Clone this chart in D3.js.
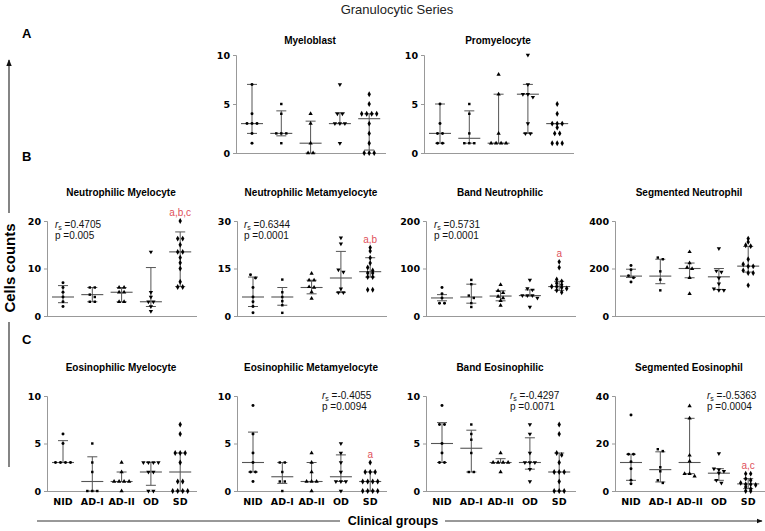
<!DOCTYPE html>
<html><head><meta charset="utf-8">
<script src="https://cdn.jsdelivr.net/npm/d3@7"></script>
<style>body{margin:0;background:#fff}</style>
</head><body>
<svg id="c" width="765" height="531"></svg>
<script>
const groups = ["NID", "AD-I", "AD-II", "OD", "SD"];

const myeloblastPoints = [[7,4,3,3,3,2,1],[5,4,2,2,2,1],[4,3,1,0,0],[7,4,4,3,3,3,1],[6,5,4,4,4,4,3,2,1,0,0,0]];
const myeloblastMedian = [3,2,1,3,3.5];
const myeloblastIQR = [[2,7],[1.75,4.3],[0,3.25],[3,4.1],[0.3,4]];

const promyelocytePoints = [[5,3,2,2,1,1],[5,4,2,1,1,1],[8,6,2,1,1,1,1],[10,7,6,6,5.7,3,2,2],[5,4,3,3,3,2.6,2,2,1,1,1]];
const promyelocyteMedian = [2,1.5,1,6,3];
const promyelocyteIQR = [[1,5],[1,4.3],[1,6],[2,7],[3,3]];

const neutMyeloPoints = [[7,6,5,4,3,2],[6,6,4.5,4,3,3],[6,6,5,5,3,3],[13.5,5,4,3,3,2,1],[20,16.3,16.3,15,13.5,13.5,12.3,11.2,10,7.2,6.1,6.1]];
const neutMyeloMedian = [4,4.5,5,3,13.5];
const neutMyeloIQR = [[2.8,6.4],[3,6],[3,6],[2,10.2],[6.2,17.7]];

const neutMetaPoints = [[13,12,9,6,4.5,3,1],[11.5,7.5,6,4.7,3.4,1],[13.4,11.3,11.3,9.2,9,7.6,5.5],[24.7,22.8,14.6,13.9,8.6,7.4,7.4],[21.6,20.5,18.4,16.7,15.3,14.4,13.6,13.6,12.3,12.3,8.3,8.3]];
const neutMetaMedian = [6,6,9,12,14];
const neutMetaIQR = [[3,12.3],[3.4,9],[7,11.3],[7.4,20.4],[12.3,18.4]];

const bandNeutPoints = [[60,47,38,27,27],[76,67,43,38,27,19],[66,53,49,41,38,32,22],[76,58,55,43,43,43,38,19],[114,102,77,73,69,66,62,62,60,58,54,50]];
const bandNeutMedian = [38,40,42,43,62];
const bandNeutIQR = [[32,45],[27,67],[32,53],[42,55],[54,73]];

const segNeutPoints = [[213,195,170,161,143],[246,239,188,153,108],[270,223,204,199,161,94],[284,190,185,160,136,115,108,108],[326,312,298,294,239,218,209,209,192,181,181,129]];
const segNeutMedian = [168,168,200,165,210];
const segNeutIQR = [[162,197],[136,239],[161,223],[112,200],[185,293]];

const eosMyeloPoints = [[6,5,3,3,3,3],[5,3,2,0,0,0],[3,2,1,1,1,1,0],[3,3,3,3,2,2,0,0],[7,6,4,4,4,3,1,1,0,0,0,0]];
const eosMyeloMedian = [3,1,1,2,2];
const eosMyeloIQR = [[3,5.3],[0,3.6],[1,2],[0.6,3],[0,4]];

const eosMetaPoints = [[9,6,4,3,2,2,1],[3,3,2,1,1,0],[4,3,2,1,1,1,0],[5,4,3,2,1,1,1,0],[3,2,2,2,1,1,1,1,0,0,0,0]];
const eosMetaMedian = [3,1.5,1,1.5,1];
const eosMetaIQR = [[2,6.2],[0.8,3],[1,3],[1,3.8],[0,2]];

const bandEosPoints = [[9,7,7,5,4,3,3],[7,6,5.4,4,2,2],[4,3,3,3,3,2],[7,6,4,3,3,3,2.3,1],[7,6,4,3.8,3,2,2,2,1,0,0,0]];
const bandEosMedian = [5,4.5,3,3,2];
const bandEosIQR = [[3,7.2],[2,6.4],[3,3.4],[2.3,5.6],[0,4]];

const segEosPoints = [[32,15.5,15.5,12.3,9.4,4.5,3.1],[17.6,16.8,10,8.3,4.5,3.4],[35.8,30.6,15,12.5,7.3,7.3,6.2],[15.8,9.4,9,8.3,7.6,4.5,3.4],[7.3,7.3,5.2,4.5,3.4,2.8,2.8,2.5,1.7,1,0,0]];
const segEosMedian = [12,9,12,7.5,3];
const segEosIQR = [[4.5,15.5],[3.8,16.5],[7.3,30.6],[4.5,9.4],[1,5.2]];

const panelTitles = ["Myeloblast","Promyelocyte","Neutrophilic Myelocyte","Neutrophilic Metamyelocyte","Band Neutrophilic","Segmented  Neutrophil","Eosinophilic Myelocyte","Eosinophilic Metamyelocyte","Band Eosinophilic","Segmented Eosinophil"];
const yMaxes = [10,10,20,30,200,400,10,10,10,40];
const yTickValues = [[0,5,10],[0,5,10],[0,10,20],[0,15,30],[0,100,200],[0,200,400],[0,5,10],[0,5,10],[0,5,10],[0,20,40]];
const rsValues = [null,null,"0.4705","0.6344","0.5731",null,null,"-0.4055","-0.4297","-0.5363"];
const pValues = [null,null,"0.005","0.0001","0.0001",null,null,"0.0094","0.0071","0.0004"];
const sigLabels = [null,null,"a,b,c","a,b","a",null,null,"a",null,"a,c"];

// layout
const rowsY = {A:[55,153], B:[221,316], C:[396,491]};
const panelsLayout = [
  {row:"A", ax:236},{row:"A", ax:424},
  {row:"B", ax:47},{row:"B", ax:237},{row:"B", ax:426},{row:"B", ax:615},
  {row:"C", ax:47},{row:"C", ax:237},{row:"C", ax:426},{row:"C", ax:615}
];
const statOffsets = [0,0,8,7,8,0,0,85,84,92];

const pointSets = [myeloblastPoints,promyelocytePoints,neutMyeloPoints,neutMetaPoints,bandNeutPoints,segNeutPoints,eosMyeloPoints,eosMetaPoints,bandEosPoints,segEosPoints];
const medianSets = [myeloblastMedian,promyelocyteMedian,neutMyeloMedian,neutMetaMedian,bandNeutMedian,segNeutMedian,eosMyeloMedian,eosMetaMedian,bandEosMedian,segEosMedian];
const iqrSets = [myeloblastIQR,promyelocyteIQR,neutMyeloIQR,neutMetaIQR,bandNeutIQR,segNeutIQR,eosMyeloIQR,eosMetaIQR,bandEosIQR,segEosIQR];

const svg = d3.select("#c");
const symbolTypes = [d3.symbolCircle, d3.symbolSquare, d3.symbolTriangle, d3.symbolTriangle, d3.symbolDiamond];
const symbolRot = [0,0,0,180,0];
const symbolSizes = [7,6,8,8,10];
const lineCol = "#555";
const axisCol = "#999";
const boldFont = "'DejaVu Sans', Verdana, sans-serif";
const sansFont = "'Liberation Sans', Arial, sans-serif";

// header
svg.append("text").attr("x",397).attr("y",14).attr("text-anchor","middle")
  .attr("font-family",sansFont).attr("font-size",13).attr("fill","#222")
  .text("Granulocytic Series");
[["A",38],["B",161],["C",344]].forEach(([t,y])=>{
  svg.append("text").attr("x",22).attr("y",y).attr("font-family",sansFont)
    .attr("font-weight","bold").attr("font-size",13).text(t);
});

// left arrow
const defs = svg.append("defs");
defs.append("marker").attr("id","ah").attr("viewBox","0 0 10 10").attr("refX",9).attr("refY",5)
  .attr("markerWidth",6).attr("markerHeight",6).attr("orient","auto")
  .append("path").attr("d","M0,1 L10,5 L0,9 Z").attr("fill","#111");
svg.append("line").attr("x1",9).attr("x2",9).attr("y1",213).attr("y2",60).attr("stroke","#333").attr("stroke-width",1.2).attr("marker-end","url(#ah)");
svg.append("line").attr("x1",9).attr("x2",9).attr("y1",322).attr("y2",467).attr("stroke","#333").attr("stroke-width",1.2);
svg.append("text").attr("transform","translate(15,268) rotate(-90)").attr("text-anchor","middle")
  .attr("font-family",sansFont).attr("font-weight","bold").attr("font-size",15).text("Cells counts");
// bottom arrow
svg.append("line").attr("x1",37).attr("x2",340).attr("y1",521).attr("y2",521).attr("stroke","#333").attr("stroke-width",1);
svg.append("line").attr("x1",445).attr("x2",762).attr("y1",521).attr("y2",521).attr("stroke","#333").attr("stroke-width",1).attr("marker-end","url(#ah)");
svg.append("text").attr("x",393).attr("y",525).attr("text-anchor","middle")
  .attr("font-family",sansFont).attr("font-weight","bold").attr("font-size",12.5).text("Clinical groups");

panelsLayout.forEach((L,pi)=>{
  const [top,bot] = rowsY[L.row];
  const g = svg.append("g");
  const y = d3.scaleLinear().domain([0,yMaxes[pi]]).range([bot,top]);
  const x = d3.scalePoint().domain(groups).range([L.ax+16, L.ax+16+4*29.3]);
  const ya = d3.axisLeft(y).tickValues(yTickValues[pi]).tickSize(3).tickPadding(3);
  const yg = g.append("g").attr("transform",`translate(${L.ax},0)`).call(ya);
  yg.select(".domain").attr("stroke",axisCol);
  yg.selectAll(".tick line").attr("stroke",axisCol);
  yg.selectAll(".tick text").attr("font-family",boldFont).attr("font-weight","bold").attr("font-size",9.5).attr("fill","#000");
  g.append("line").attr("x1",L.ax).attr("x2",L.ax+150).attr("y1",bot+0.5).attr("y2",bot+0.5).attr("stroke",axisCol);
  if (L.row==="C") {
    groups.forEach(gn=>{
      g.append("text").attr("x",x(gn)).attr("y",bot+14).attr("text-anchor","middle")
        .attr("font-family",boldFont).attr("font-weight","bold").attr("font-size",9.5).text(gn);
    });
  }
  g.append("text").attr("x",L.ax+74).attr("y",top-(L.row==="A"?11:25)).attr("text-anchor","middle")
    .attr("font-family",sansFont).attr("font-weight","bold").attr("font-size",10).text(panelTitles[pi]);
  if (rsValues[pi]) {
    const sx = L.ax + statOffsets[pi];
    const by = L.row==="B" ? top+7 : top+3;
    const t1 = g.append("text").attr("x",sx).attr("y",by).attr("font-family",sansFont).attr("font-size",10).attr("fill","#111");
    t1.append("tspan").attr("font-style","italic").text("r");
    t1.append("tspan").attr("font-size",7).attr("dy",2).text("s");
    t1.append("tspan").attr("dy",-2).text(" =" + rsValues[pi]);
    g.append("text").attr("x",sx).attr("y",by+11).attr("font-family",sansFont).attr("font-size",10).attr("fill","#111")
      .text("p =" + pValues[pi]);
  }
  groups.forEach((gn,gi)=>{
    const cx = x(gn);
    const med = medianSets[pi][gi], [q1,q3] = iqrSets[pi][gi];
    g.append("line").attr("x1",cx).attr("x2",cx).attr("y1",y(q1)).attr("y2",y(q3)).attr("stroke",lineCol).attr("stroke-width",1);
    [q1,q3].forEach(v=>g.append("line").attr("x1",cx-5).attr("x2",cx+5).attr("y1",y(v)).attr("y2",y(v)).attr("stroke",lineCol).attr("stroke-width",1));
    g.append("line").attr("x1",cx-11).attr("x2",cx+11).attr("y1",y(med)).attr("y2",y(med)).attr("stroke",lineCol).attr("stroke-width",1.1);
    const vals = pointSets[pi][gi].slice().sort((a,b)=>b-a);
    const clusters = [];
    vals.forEach(v=>{
      const last = clusters[clusters.length-1];
      if (last && Math.abs(y(last[0])-y(v))<3.2) last.push(v); else clusters.push([v]);
    });
    const sym = d3.symbol().type(symbolTypes[gi]).size(symbolSizes[gi]);
    clusters.forEach(cl=>{
      cl.forEach((v,k)=>{
        const dx = (k-(cl.length-1)/2)*5;
        g.append("path").attr("d",sym()).attr("fill","#000")
          .attr("transform",`translate(${cx+dx},${y(v)}) rotate(${symbolRot[gi]})`);
      });
    });
    if (gi===4 && sigLabels[pi]) {
      const mx = d3.max(pointSets[pi][gi]);
      g.append("text").attr("x",cx).attr("y",y(mx)-5).attr("text-anchor","middle")
        .attr("font-family",sansFont).attr("font-size",10).attr("fill","#e0505a").text(sigLabels[pi]);
    }
  });
});
</script>
</body></html>
